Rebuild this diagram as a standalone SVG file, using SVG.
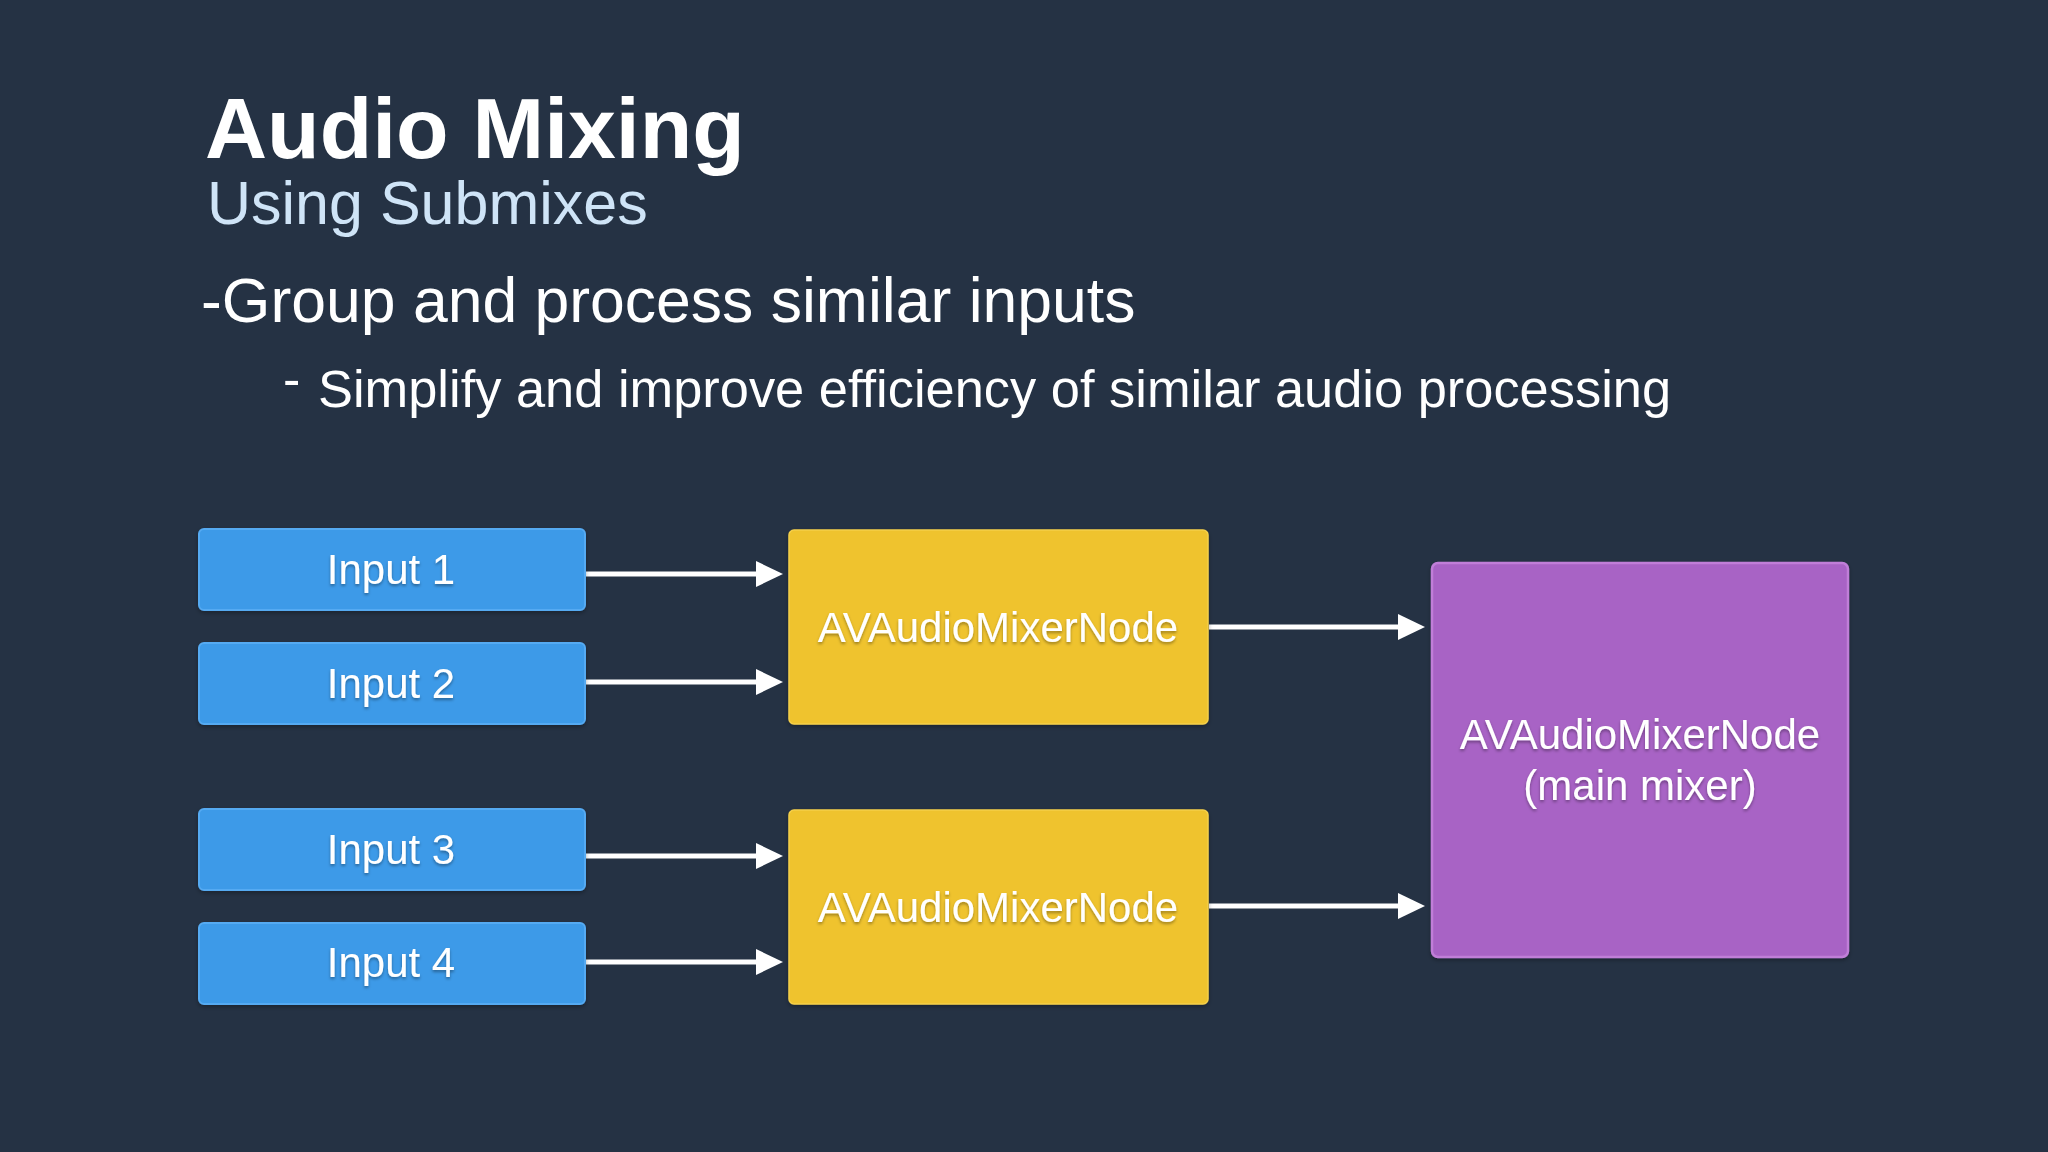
<svg xmlns="http://www.w3.org/2000/svg" width="2048" height="1152" viewBox="0 0 2048 1152">
  <defs>
    <style>
      .title { font-family: "Liberation Sans", Arial, sans-serif; font-weight: bold; font-size: 86px; fill: #ffffff; }
      .subtitle { font-family: "Liberation Sans", Arial, sans-serif; font-size: 61px; fill: #cfe4f7; }
      .bullet { font-family: "Liberation Sans", Arial, sans-serif; fill: #ffffff; }
      .label { font-family: "Liberation Sans", Arial, sans-serif; font-size: 42px; fill: #ffffff; text-anchor: middle; filter: url(#tshadow); }
      .input { fill: #3c9ae8; stroke: #55aaf2; stroke-width: 2; }
      .submix { fill: #efc32f; stroke: #f5d04a; stroke-width: 1.5; }
      .main { fill: #a863c5; stroke: #c07ed8; stroke-width: 2.5; }
      .conn { stroke: #ffffff; stroke-width: 5; fill: none; marker-end: url(#head); }
    </style>
    <marker id="head" markerUnits="userSpaceOnUse" markerWidth="28" markerHeight="28" refX="0" refY="13" orient="auto" viewBox="0 0 28 28">
      <path d="M0,0 L27,13 L0,26 Z" fill="#ffffff"/>
    </marker>
    <filter id="tshadow" x="-10%" y="-30%" width="120%" height="160%">
      <feDropShadow dx="0" dy="2" stdDeviation="1.5" flood-color="#000000" flood-opacity="0.35"/>
    </filter>
    <filter id="bshadow" x="-5%" y="-5%" width="110%" height="115%">
      <feDropShadow dx="0" dy="2" stdDeviation="2" flood-color="#000000" flood-opacity="0.3"/>
    </filter>
  </defs>

  <rect x="0" y="0" width="2048" height="1152" fill="#253244"/>

  <g id="heading">
    <text class="title" x="205" y="158">Audio Mixing</text>
    <text class="subtitle" x="207" y="224">Using Submixes</text>
    <text class="bullet" x="201" y="322" font-size="62.5">-Group and process similar inputs</text>
    <text class="bullet" x="283" y="397" font-size="52">-</text>
    <text class="bullet" x="318" y="407" font-size="52.4">Simplify and improve efficiency of similar audio processing</text>
  </g>

  <g id="connectors">
    <line class="conn" x1="586" y1="574" x2="756" y2="574"/>
    <line class="conn" x1="586" y1="682" x2="756" y2="682"/>
    <line class="conn" x1="586" y1="856" x2="756" y2="856"/>
    <line class="conn" x1="586" y1="962" x2="756" y2="962"/>
    <line class="conn" x1="1209" y1="627" x2="1398" y2="627"/>
    <line class="conn" x1="1209" y1="906" x2="1398" y2="906"/>
  </g>

  <g id="input1">
    <rect class="input" x="199" y="529" width="386" height="81" rx="5" filter="url(#bshadow)"/>
    <text class="label" x="391" y="584">Input 1</text>
  </g>
  <g id="input2">
    <rect class="input" x="199" y="643" width="386" height="81" rx="5" filter="url(#bshadow)"/>
    <text class="label" x="391" y="698">Input 2</text>
  </g>
  <g id="input3">
    <rect class="input" x="199" y="809" width="386" height="81" rx="5" filter="url(#bshadow)"/>
    <text class="label" x="391" y="864">Input 3</text>
  </g>
  <g id="input4">
    <rect class="input" x="199" y="923" width="386" height="81" rx="5" filter="url(#bshadow)"/>
    <text class="label" x="391" y="977">Input 4</text>
  </g>

  <g id="submix1">
    <rect class="submix" x="789" y="530" width="419" height="194" rx="5" filter="url(#bshadow)"/>
    <text class="label" x="998" y="642">AVAudioMixerNode</text>
  </g>
  <g id="submix2">
    <rect class="submix" x="789" y="810" width="419" height="194" rx="5" filter="url(#bshadow)"/>
    <text class="label" x="998" y="922">AVAudioMixerNode</text>
  </g>

  <g id="mainmixer">
    <rect class="main" x="1432" y="563" width="416" height="394" rx="6" filter="url(#bshadow)"/>
    <text class="label" x="1640" y="749">AVAudioMixerNode</text>
    <text class="label" x="1640" y="800">(main mixer)</text>
  </g>
</svg>
